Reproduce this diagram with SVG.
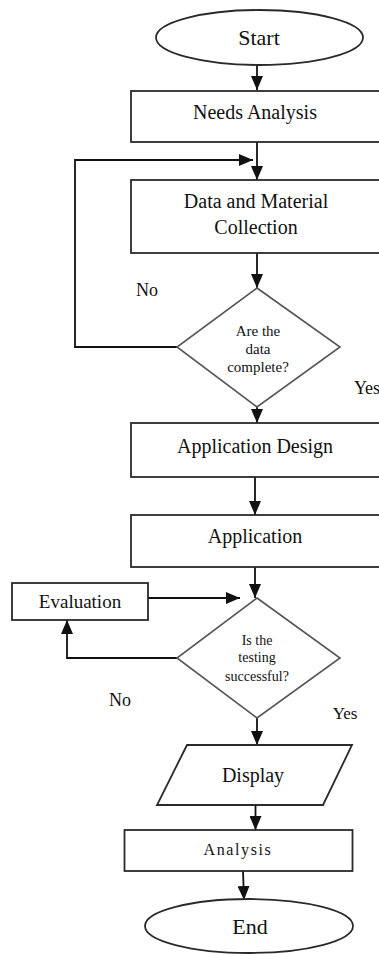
<svg xmlns="http://www.w3.org/2000/svg" width="379" height="954" viewBox="0 0 379 954">
<style>
.shape{fill:#fff;stroke:#2a2a2a;stroke-width:1.8}
.dia{fill:#fff;stroke:#555;stroke-width:1.6}
.line{fill:none;stroke:#111;stroke-width:1.8}
text{font-family:"Liberation Serif","Times New Roman",serif;fill:#111;text-anchor:middle}
.t20{font-size:20px}
.t22{font-size:22px}
.t18{font-size:18px}
.d15{font-size:15px}
.d14{font-size:14px}
</style>
<defs>
<marker id="ah" markerUnits="userSpaceOnUse" markerWidth="14" markerHeight="12" refX="14" refY="6" orient="auto">
<path d="M0,0 L14,6 L0,12 z" fill="#111"/>
</marker>
</defs>
<rect width="379" height="954" fill="#fff"/>
<g id="connectors">
<line class="line" x1="257" y1="65" x2="257" y2="90" marker-end="url(#ah)"/>
<line class="line" x1="257" y1="142" x2="257" y2="180" marker-end="url(#ah)"/>
<polyline class="line" points="177,347 75,347 75,160 253,160" marker-end="url(#ah)"/>
<line class="line" x1="257" y1="253" x2="257" y2="288" marker-end="url(#ah)"/>
<line class="line" x1="257" y1="407" x2="257" y2="423" marker-end="url(#ah)"/>
<line class="line" x1="255" y1="477" x2="255" y2="515" marker-end="url(#ah)"/>
<line class="line" x1="255" y1="567" x2="255" y2="598" marker-end="url(#ah)"/>
<line class="line" x1="148" y1="598" x2="240" y2="598" marker-end="url(#ah)"/>
<polyline class="line" points="177,658 67,658 67,620" marker-end="url(#ah)"/>
<line class="line" x1="257" y1="718" x2="257" y2="745" marker-end="url(#ah)"/>
<line class="line" x1="255.5" y1="805" x2="255.5" y2="830" marker-end="url(#ah)"/>
<line class="line" x1="243" y1="871" x2="244" y2="900" marker-end="url(#ah)"/>
<text class="t18" x="147" y="296">No</text>
<text class="t18" x="367" y="394">Yes</text>
<text class="t18" x="120" y="706">No</text>
<text class="t18" x="345" y="719" style="font-size:17px">Yes</text>
</g>
<g id="start">
<ellipse class="shape" cx="259.5" cy="37.5" rx="103.5" ry="27.5"/>
<text class="t22" x="259" y="45">Start</text>
</g>
<g id="needs">
<rect class="shape" x="131" y="91" width="260" height="51"/>
<text class="t20" x="255" y="119">Needs Analysis</text>
</g>
<g id="collect">
<rect class="shape" x="131" y="180" width="260" height="73"/>
<text class="t20" x="256" y="208">Data and Material</text>
<text class="t20" x="256" y="234">Collection</text>
</g>
<g id="dec1">
<polygon class="dia" points="257,288 340,347 257,407 177,347"/>
<text class="d15" x="258" y="336">Are the</text>
<text class="d15" x="258" y="354">data</text>
<text class="d15" x="258" y="372">complete?</text>
</g>
<g id="design">
<rect class="shape" x="131" y="423" width="260" height="54"/>
<text class="t20" x="255" y="453">Application Design</text>
</g>
<g id="app">
<rect class="shape" x="131" y="515" width="260" height="52"/>
<text class="t20" x="255" y="543">Application</text>
</g>
<g id="eval">
<rect class="shape" x="12" y="583" width="136" height="37"/>
<text class="t20" x="80" y="608" style="font-size:19px">Evaluation</text>
</g>
<g id="dec2">
<polygon class="dia" points="257,598 340,658 257,718 177,658"/>
<text class="d14" x="257" y="645">Is the</text>
<text class="d14" x="257" y="662">testing</text>
<text class="d14" x="257" y="681">successful?</text>
</g>
<g id="display">
<polygon class="shape" points="187,745 352,745 323,805 157,805"/>
<text class="t20" x="253" y="782">Display</text>
</g>
<g id="analysis">
<rect class="shape" x="124.5" y="830" width="228" height="41"/>
<text class="t18" x="238" y="855" style="font-size:16px;letter-spacing:1.6px">Analysis</text>
</g>
<g id="end">
<ellipse class="shape" cx="249" cy="926" rx="104" ry="27"/>
<text class="t22" x="250" y="934">End</text>
</g>
</svg>
